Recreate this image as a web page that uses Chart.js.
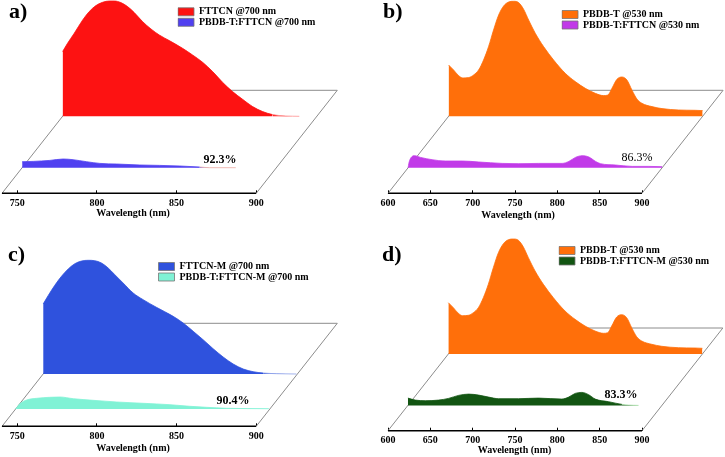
<!DOCTYPE html>
<html><head><meta charset="utf-8">
<script src="https://cdn.jsdelivr.net/npm/chart.js@4/dist/chart.umd.min.js"></script>
<style>
html,body{margin:0;padding:0;background:#fff;width:725px;height:457px;overflow:hidden}
canvas{position:absolute;display:block;filter:blur(0.3px)}
</style></head><body>
<script>
// ---------- Data (wavelength in nm, intensity in a.u.) ----------
const fttcnWl=[740.4,743.5,747.7,753,757.1,761.3,765.5,769.7,772.8,777,781.2,785.4,790.6,795.9,801.1,807.4,815.7,822,828.3,834.6,840.8,847.1,853.4,859.7,866,872.2,880.6,889];
const fttcnI=[64.7,73,83,96.3,104.7,110.7,114,115.3,115.3,113.7,109.7,103.7,94.7,87.3,81.3,75.7,68,61.3,54,44.7,34,24.7,17,9.7,4.7,1.7,0.3,0];
const blendAWl=[740.4,747.3,757.8,766.1,772.4,780.8,789.2,799.6,814.3,826.8,839.4,851.9,858.2,874.5];
const blendAI=[6,6.3,7.3,8.7,8,6,4.3,3.7,2.7,2.3,1.7,0.7,0,0];
const pbdbWl=[600,605.9,611.8,616.9,623.6,629.5,635.4,641.3,647.2,653.1,659.1,665,670.9,676.8,682.7,688.6,694.5,702.4,712.2,724,737.8,749.6,761.4,773.2,783.1,788.2,792.9,798.8,804.7,810.6,816.5,822.4,828.3,840.2,852,871.7,891.3,900];
const pbdbI=[51.3,46.3,40.7,38.3,38.7,41.3,46.3,56.3,69.7,86.3,101.3,110.3,114.3,115,113.7,107,96.3,83,69.7,56.3,43,34.7,28,23,20.7,21.3,28,37,39.3,36.3,26.3,17.3,13,9.7,7.7,6.3,6,5.7];
const blendBWl=[600,600.8,604.7,607.5,614.6,628.3,644.1,663.8,683.5,711,730.7,754.3,781.9,789.8,797.6,805.5,813.4,821.3,827.2,844.9,864.6,884.3,900];
const blendBI=[0,4.3,11.3,12,10.3,8,6.7,6.7,5.7,4.3,4,4.3,4.3,6.3,10.3,12,10.7,6.3,4,2.7,1.3,1.3,1];
const fttcnMWl=[740.4,743.5,747.7,751.9,756.1,760.3,764.5,768.6,772.8,777,781.2,785.4,790.6,796.9,803.2,811.5,822,828.3,834.6,840.8,847.1,853.4,859.7,866,872.2,878.5,886.9,899.4];
const fttcnMI=[70,78.3,88.7,97.7,105,110.3,113,113.7,113.3,111,106,99.3,91,81,74.3,66.7,57.7,51,42.7,34.3,25.3,17,10,5,2.3,1,0.3,0];
const blendCWl=[740.4,743.1,747.3,753.6,761.9,768.2,776.6,789,803.8,820.5,837.3,849.8,860.3,872.9,899.4];
const blendCI=[0,5.3,9,10.7,11.7,12,10.3,8.7,7,5.7,4.3,2.7,1.7,0.7,0.3];
const blendDWl=[600,608.7,620.5,636.2,648,659.8,671.7,683.5,695.3,707.1,730.7,754.3,781.9,789.8,797.6,805.5,813.4,821.3,837,852.8,860.6,872.4];
const blendDI=[7.3,5.3,4.7,5.3,7,10,11.3,10.3,8.3,6.7,6.7,7.3,6.3,8.3,12,13,10.7,6.3,3.7,1,0.3,0];
const ticksNarrow=[750,800,850,900];
const ticksWide=[600,650,700,750,800,850,900];

// ---------- Layout and style ----------
const SERIF='"Liberation Serif","Times New Roman",serif';
const SKEW=0.787;
const PLANE_COLOR='#8c8c8c';
const panels=[
 {letter:'a)',lx:9,ly:18,box:[0,0,362,228],axisY:193.3,padL:2,xMin:740.4,xMax:966.4,ticks:ticksNarrow,planeD:103,
  titleX:133,titleY:213,pct:'92.3%',pctX:220,pctY:160,pctW:'bold',legend:[177.5,6.3],
  front:{label:'FTTCN @700 nm',wl:fttcnWl,v:fttcnI,c:'#fd1212',line:'#ff8f8f',depth:77},
  back:{label:'PBDB-T:FTTCN @700 nm',wl:blendAWl,v:blendAI,c:'#5040f0',line:'#eaa8a0',depth:25.6}},
 {letter:'b)',lx:383,ly:18,box:[362,0,363,228],axisY:193.3,padL:26,xMin:600,xMax:998,ticks:ticksWide,planeD:103,
  titleX:518,titleY:215,pct:'86.3%',pctX:637,pctY:158,pctW:'normal',legend:[561.5,9],
  front:{label:'PBDB-T @530 nm',wl:pbdbWl,v:pbdbI,c:'#ff6f0a',line:'#ff6f0a',depth:77},
  back:{label:'PBDB-T:FTTCN @530 nm',wl:blendBWl,v:blendBI,c:'#c13ae8',line:'#c13ae8',depth:25.6}},
 {letter:'c)',lx:8,ly:261,box:[0,228,362,229],axisY:426.3,padL:2,xMin:740.4,xMax:966.4,ticks:ticksNarrow,planeD:103,
  titleX:133,titleY:448,pct:'90.4%',pctX:233,pctY:401,pctW:'bold',legend:[158,261],
  front:{label:'FTTCN-M @700 nm',wl:fttcnMWl,v:fttcnMI,c:'#2f52dd',line:'#8ca0e8',depth:52.3},
  back:{label:'PBDB-T:FTTCN-M @700 nm',wl:blendCWl,v:blendCI,c:'#80f2d5',line:'#80f2d5',depth:17.3}},
 {letter:'d)',lx:382,ly:261,box:[362,228,363,229],axisY:430.7,padL:26,xMin:600,xMax:998,ticks:ticksWide,planeD:102.7,
  titleX:514.5,titleY:450,pct:'83.3%',pctX:621,pctY:394.7,pctW:'bold',legend:[558.5,245],
  front:{label:'PBDB-T @530 nm',wl:pbdbWl,v:pbdbI,c:'#ff6f0a',line:'#ff6f0a',depth:76.7},
  back:{label:'PBDB-T:FTTCN-M @530 nm',wl:blendDWl,v:blendDI,c:'#125512',line:'#9fdc9f',depth:25.3}}
];

function seriesDataset(s,ppn){
  const shift=s.depth*SKEW/ppn;
  return {label:s.label,type:'line',
    data:s.wl.map((w,i)=>({x:w+shift,y:s.v[i]+s.depth})),
    backgroundColor:s.c,borderColor:s.c,borderWidth:0.8,pointRadius:0,cubicInterpolationMode:'monotone',
    segment:{borderColor:ctx=>(ctx.p1.parsed.y-s.depth<0.35?s.line:s.c)},
    fill:{value:s.depth},clip:false};
}
function guideDataset(pts,color,w){
  return {type:'line',data:pts,borderColor:color,backgroundColor:'transparent',borderWidth:w,pointRadius:0,fill:false,tension:0,clip:false};
}
const pageText={
  id:'pageText',
  afterDraw(chart,args,o){
    const ctx=chart.ctx,p=o.panel,bx=p.box[0],by=p.box[1];
    ctx.save();ctx.fillStyle='#000';ctx.textBaseline='alphabetic';ctx.textAlign='left';
    ctx.font='bold 22px '+SERIF;ctx.fillText(p.letter,p.lx-bx,p.ly-by);
    ctx.textAlign='center';ctx.textBaseline='middle';
    ctx.font='bold 10px '+SERIF;ctx.fillText('Wavelength (nm)',p.titleX-bx,p.titleY-by);
    ctx.font=p.pctW+' 12px '+SERIF;ctx.fillText(p.pct,p.pctX-bx,p.pctY-by);
    ctx.restore();
  }
};
const placeLegend={
  id:'placeLegend',
  afterLayout(chart,args,o){
    const l=chart.legend,p=o.panel;if(!l)return;
    l.left=p.legend[0]-p.box[0];l.top=p.legend[1]-p.box[1];
    l.right=l.left+190;l.bottom=l.top+34;l.width=190;l.height=34;
  }
};
panels.forEach(p=>{
  const [bx,by,bw,bh]=p.box;
  const cv=document.createElement('canvas');
  cv.width=bw;cv.height=bh;cv.style.left=bx+'px';cv.style.top=by+'px';cv.style.width=bw+'px';cv.style.height=bh+'px';
  document.body.appendChild(cv);
  const areaH=p.axisY-by, ppn=(bw-p.padL)/(p.xMax-p.xMin), backShift=p.planeD*SKEW/ppn;
  const plane=[{x:p.xMin,y:0},{x:p.xMin+backShift,y:p.planeD},{x:900+backShift,y:p.planeD},{x:900,y:0}];
  const axisLine=[{x:p.xMin,y:0},{x:900,y:0}];
  new Chart(cv,{
    type:'line',
    data:{datasets:[seriesDataset(p.front,ppn),seriesDataset(p.back,ppn),
      guideDataset(axisLine,'#000',1.6),guideDataset(plane,PLANE_COLOR,1)]},
    plugins:[pageText,placeLegend],
    options:{responsive:false,animation:false,
      layout:{padding:{left:p.padL,right:0,top:0,bottom:0}},
      scales:{
        x:{type:'linear',min:p.xMin,max:p.xMax,
          afterBuildTicks:s=>{s.ticks=p.ticks.map(v=>({value:v}));},
          afterFit:s=>{s.height=bh-areaH;},
          border:{display:false},
          grid:{drawOnChartArea:false,drawTicks:true,tickLength:-3,color:'#000',lineWidth:1},
          ticks:{autoSkip:false,maxRotation:0,padding:7,color:'#000',font:{family:SERIF,size:10,weight:'bold'},callback:v=>String(v)}},
        y:{display:false,min:0,max:areaH}
      },
      plugins:{
        pageText:{panel:p},placeLegend:{panel:p},
        tooltip:{enabled:false},
        legend:{display:true,position:'chartArea',align:'start',
          labels:{boxWidth:16,boxHeight:8,padding:0.5,color:'#111',font:{family:SERIF,size:10,weight:'bold',lineHeight:1.2},
            generateLabels:c=>c.data.datasets.slice(0,2).map((d,i)=>({text:d.label,fillStyle:d.backgroundColor,strokeStyle:'#777',lineWidth:0.8,datasetIndex:i,hidden:false}))}}
      }
    }
  });
});
</script>
</body></html>
